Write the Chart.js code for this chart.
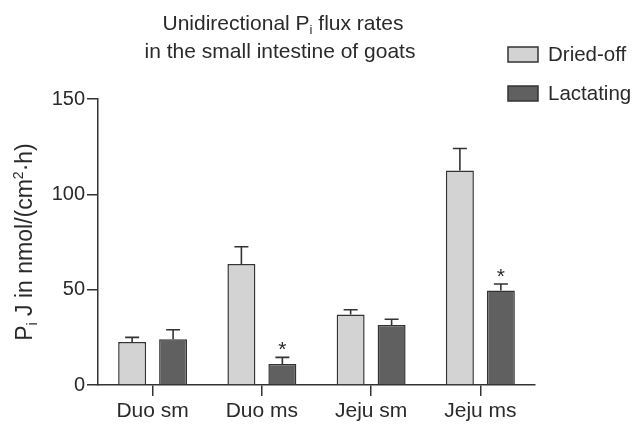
<!DOCTYPE html>
<html>
<head>
<meta charset="utf-8">
<script src="https://cdn.jsdelivr.net/npm/chart.js@4/dist/chart.umd.min.js"></script>
<style>
  html, body { margin: 0; padding: 0; background: #fff; }
  #wrap { width: 635px; height: 426px; }
</style>
</head>
<body>
<div id="wrap"><canvas id="c" width="635" height="426"></canvas></div>
<script>
var categories = ['Duo sm', 'Duo ms', 'Jeju sm', 'Jeju ms'];
var driedOff = [22.5, 63.5, 37, 112.5];
var driedOffErr = [2.5, 9, 2.5, 11.5];
var lactating = [24, 11, 31.5, 49.5];
var lactatingErr = [5, 3.5, 3, 3.5];
var lactatingSig = [false, true, false, true];
var yTicks = [0, 50, 100, 150];

var FONT = '"Liberation Sans", Arial, Helvetica, sans-serif';
var INK = '#2a2a2a';

// draws pieces [{t, mode}] where mode is '', 'sub' or 'sup', centred at cx
function drawRich(ctx, pieces, cx, cy, size) {
  var small = Math.round(size * 0.62);
  var total = 0;
  pieces.forEach(function (p) {
    ctx.font = (p.mode ? small : size) + 'px ' + FONT;
    p.w = ctx.measureText(p.t).width;
    total += p.w;
  });
  var x = cx - total / 2;
  ctx.textBaseline = 'alphabetic';
  ctx.textAlign = 'left';
  var base = cy + size * 0.36;
  pieces.forEach(function (p) {
    ctx.font = (p.mode ? small : size) + 'px ' + FONT;
    var y = base;
    if (p.mode === 'sub') y = base + size * 0.2;
    if (p.mode === 'sup') y = base - size * 0.4;
    ctx.fillText(p.t, x, y);
    x += p.w;
  });
}

var decorPlugin = {
  id: 'decor',
  afterDatasetsDraw: function (chart) {
    var ctx = chart.ctx;
    var yScale = chart.scales.y;
    var errs = [driedOffErr, lactatingErr];
    ctx.save();
    ctx.strokeStyle = '#333';
    ctx.lineWidth = 1.6;
    chart.data.datasets.forEach(function (ds, di) {
      var meta = chart.getDatasetMeta(di);
      meta.data.forEach(function (bar, i) {
        var top = yScale.getPixelForValue(ds.data[i] + errs[di][i]);
        ctx.beginPath();
        ctx.moveTo(bar.x, bar.y);
        ctx.lineTo(bar.x, top);
        ctx.moveTo(bar.x - 7, top);
        ctx.lineTo(bar.x + 7, top);
        ctx.stroke();
        if (di === 1 && lactatingSig[i]) {
          ctx.fillStyle = INK;
          ctx.font = '21px ' + FONT;
          ctx.textAlign = 'center';
          ctx.textBaseline = 'alphabetic';
          ctx.fillText('*', bar.x, top - 1);
        }
      });
    });
    ctx.restore();
  },
  afterDraw: function (chart) {
    var ctx = chart.ctx;
    ctx.save();
    ctx.fillStyle = INK;
    drawRich(ctx, [{ t: 'Unidirectional P', mode: '' }, { t: 'i', mode: 'sub' }, { t: ' flux rates', mode: '' }], 283, 22, 21);
    drawRich(ctx, [{ t: 'in the small intestine of goats', mode: '' }], 280, 50, 21);

    ctx.save();
    ctx.translate(24, 242);
    ctx.rotate(-Math.PI / 2);
    drawRich(ctx, [
      { t: 'P', mode: '' }, { t: 'i', mode: 'sub' }, { t: ' J in nmol/(cm', mode: '' },
      { t: '2', mode: 'sup' }, { t: '\u00b7h)', mode: '' }
    ], 0, 0, 23);
    ctx.restore();

    // legend
    chart.data.datasets.forEach(function (ds, di) {
      var y = 47 + di * 39;
      ctx.fillStyle = ds.backgroundColor;
      ctx.fillRect(508, y, 30, 15);
      ctx.strokeStyle = '#333';
      ctx.lineWidth = 1.5;
      ctx.strokeRect(508, y, 30, 15);
      ctx.fillStyle = INK;
      ctx.font = '20.5px ' + FONT;
      ctx.textAlign = 'left';
      ctx.textBaseline = 'middle';
      ctx.fillText(ds.label, 548, y + 8);
    });
    ctx.restore();
  }
};

new Chart(document.getElementById('c'), {
  type: 'bar',
  data: {
    labels: categories,
    datasets: [
      { label: 'Dried-off', data: driedOff, backgroundColor: '#d3d3d3', borderColor: '#333', borderWidth: 1.5 },
      { label: 'Lactating', data: lactating, backgroundColor: '#606060', borderColor: '#333', borderWidth: 1.5 }
    ]
  },
  options: {
    responsive: false,
    animation: false,
    events: [],
    layout: { padding: { top: 99, right: 100, bottom: 0, left: 0 } },
    categoryPercentage: 0.75,
    barPercentage: 0.683,
    plugins: { legend: { display: false }, title: { display: false }, tooltip: { enabled: false } },
    scales: {
      x: {
        grid: { display: true, drawOnChartArea: false, drawTicks: true, tickLength: 11, offset: false, color: '#333', lineWidth: 1.5 },
        border: { display: true, color: '#333', width: 1.5 },
        ticks: { color: INK, font: { family: FONT, size: 21 }, padding: 3, maxRotation: 0 },
        afterFit: function (s) { s.height = 41; }
      },
      y: {
        min: 0,
        max: 150,
        afterBuildTicks: function (s) { s.ticks = yTicks.map(function (v) { return { value: v }; }); },
        grid: { display: true, drawOnChartArea: false, drawTicks: true, tickLength: 11, color: '#333', lineWidth: 1.5 },
        border: { display: true, color: '#333', width: 1.5 },
        ticks: { color: INK, font: { family: FONT, size: 20 }, padding: 2 },
        afterFit: function (s) { s.width = 98; }
      }
    }
  },
  plugins: [decorPlugin]
});
</script>
</body>
</html>
